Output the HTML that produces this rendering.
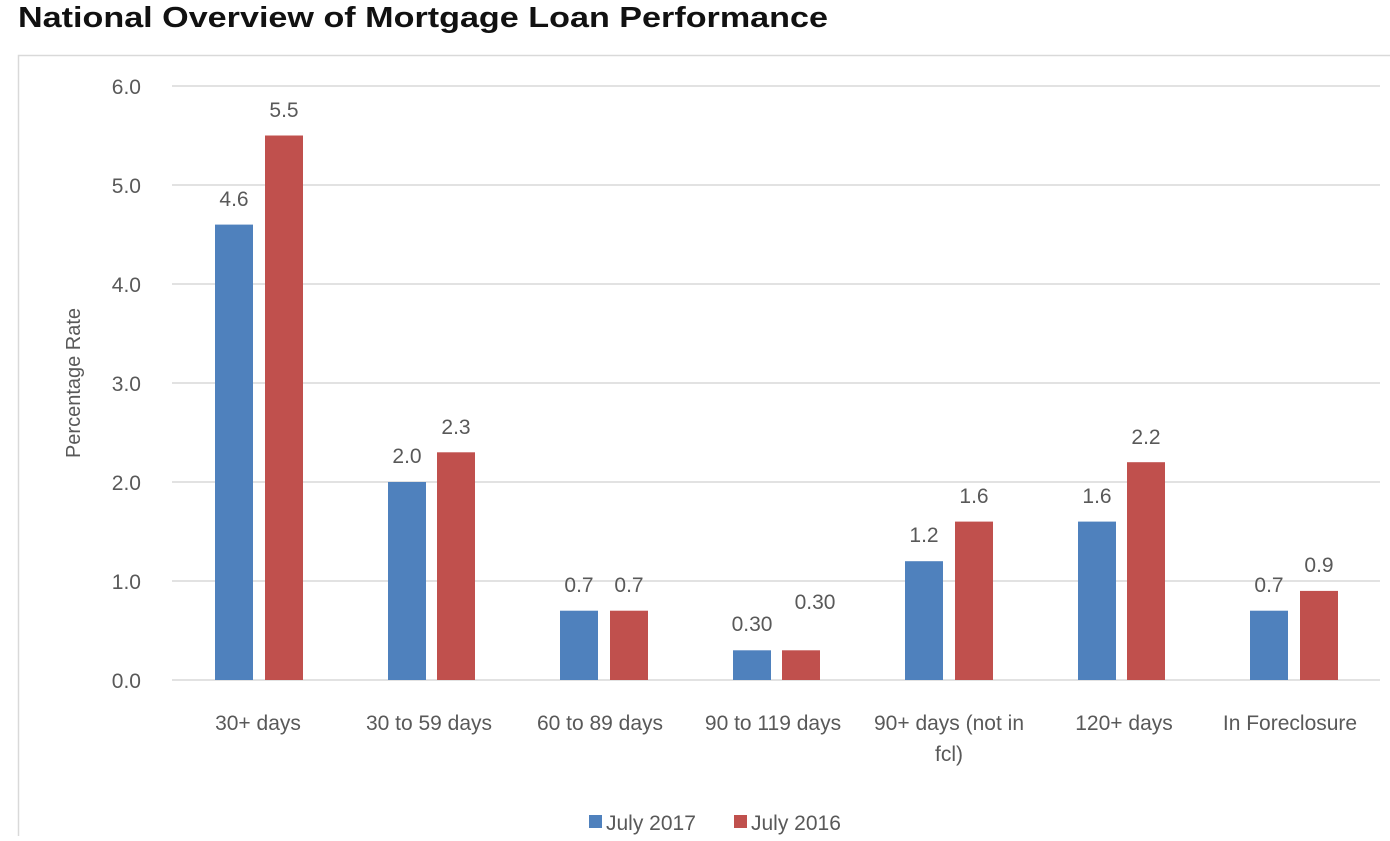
<!DOCTYPE html>
<html><head><style>
body{margin:0;background:#fff;width:1390px;height:836px;overflow:hidden;font-family:"Liberation Sans",sans-serif}
</style></head><body>
<svg width="1390" height="836" xmlns="http://www.w3.org/2000/svg" font-family="Liberation Sans, sans-serif">
<text x="18" y="27" font-size="29" font-weight="bold" fill="#111" textLength="810" lengthAdjust="spacingAndGlyphs">National Overview of Mortgage Loan Performance</text>
<rect x="18.5" y="55.5" width="1400" height="820" fill="none" stroke="#d9d9d9" stroke-width="1.5"/>
<g stroke="#d9d9d9" stroke-width="1.5">
<line x1="172" x2="1380" y1="86" y2="86"/><line x1="172" x2="1380" y1="185" y2="185"/>
<line x1="172" x2="1380" y1="284" y2="284"/><line x1="172" x2="1380" y1="383" y2="383"/>
<line x1="172" x2="1380" y1="482" y2="482"/><line x1="172" x2="1380" y1="581" y2="581"/>
<line x1="172" x2="1380" y1="680" y2="680"/></g>
<g font-size="21" fill="#595959" text-anchor="end">
<text x="141" y="94">6.0</text><text x="141" y="193">5.0</text><text x="141" y="292">4.0</text>
<text x="141" y="391">3.0</text><text x="141" y="490">2.0</text><text x="141" y="589">1.0</text><text x="141" y="688">0.0</text></g>
<text transform="translate(80,383) rotate(-90)" font-size="20" fill="#595959" text-anchor="middle">Percentage Rate</text>
<g font-size="21" fill="#595959" text-anchor="middle">
<rect x="215" y="224.6" width="38" height="455.4" fill="#4f81bd"/><rect x="265" y="135.5" width="38" height="544.5" fill="#c0504d"/>
<text x="234" y="206">4.6</text><text x="284" y="117">5.5</text>
<rect x="388" y="482" width="38" height="198" fill="#4f81bd"/><rect x="437" y="452.3" width="38" height="227.7" fill="#c0504d"/>
<text x="407" y="463">2.0</text><text x="456" y="434">2.3</text>
<rect x="560" y="610.7" width="38" height="69.3" fill="#4f81bd"/><rect x="610" y="610.7" width="38" height="69.3" fill="#c0504d"/>
<text x="579" y="592">0.7</text><text x="629" y="592">0.7</text>
<rect x="733" y="650.3" width="38" height="29.7" fill="#4f81bd"/><rect x="782" y="650.3" width="38" height="29.7" fill="#c0504d"/>
<text x="752" y="631">0.30</text><text x="815" y="609">0.30</text>
<rect x="905" y="561.2" width="38" height="118.8" fill="#4f81bd"/><rect x="955" y="521.6" width="38" height="158.4" fill="#c0504d"/>
<text x="924" y="542">1.2</text><text x="974" y="503">1.6</text>
<rect x="1078" y="521.6" width="38" height="158.4" fill="#4f81bd"/><rect x="1127" y="462.2" width="38" height="217.8" fill="#c0504d"/>
<text x="1097" y="503">1.6</text><text x="1146" y="444">2.2</text>
<rect x="1250" y="610.7" width="38" height="69.3" fill="#4f81bd"/><rect x="1300" y="590.9" width="38" height="89.1" fill="#c0504d"/>
<text x="1269" y="592">0.7</text><text x="1319" y="572">0.9</text>
<text x="258" y="730">30+ days</text><text x="429" y="730">30 to 59 days</text><text x="600" y="730">60 to 89 days</text>
<text x="773" y="730">90 to 119 days</text><text x="949" y="730">90+ days (not in</text><text x="949" y="761">fcl)</text>
<text x="1124" y="730">120+ days</text><text x="1290" y="730">In Foreclosure</text>
</g>
<rect x="589" y="815" width="13" height="13" fill="#4f81bd"/>
<text x="606" y="830" font-size="21" fill="#595959">July 2017</text>
<rect x="734" y="815" width="13" height="13" fill="#c0504d"/>
<text x="751" y="830" font-size="21" fill="#595959">July 2016</text>
</svg>
</body></html>
